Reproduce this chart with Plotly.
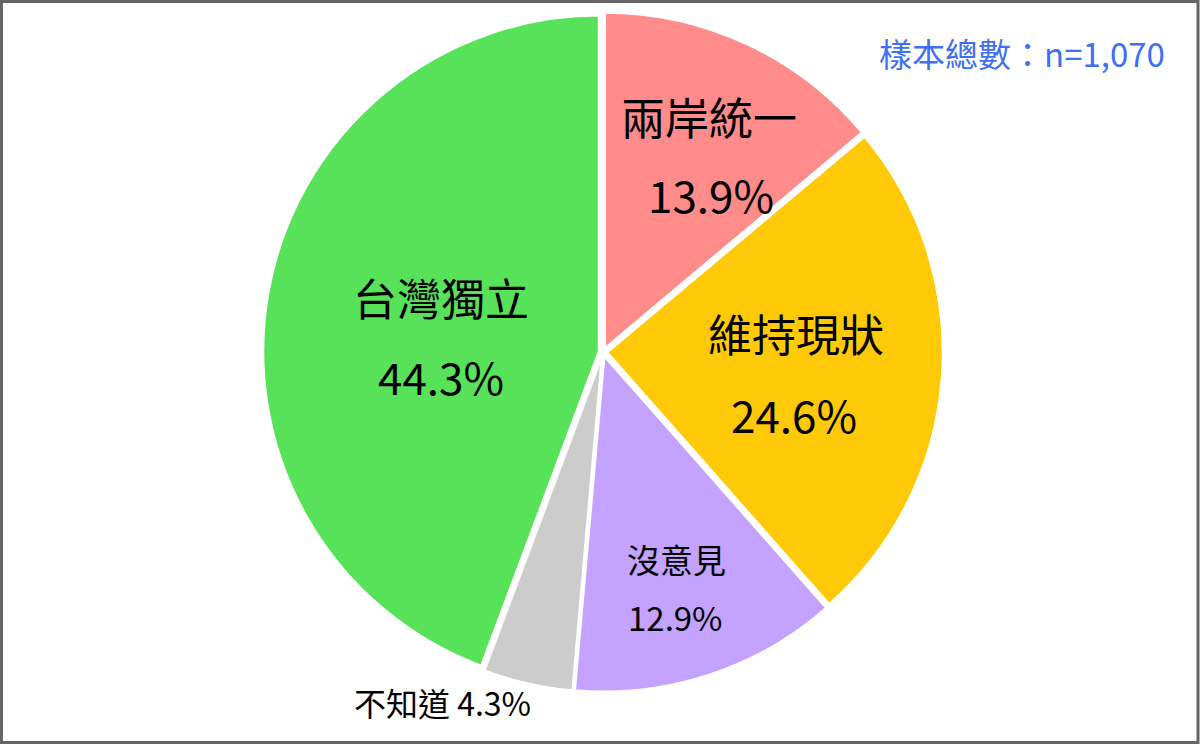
import plotly.graph_objects as go

# data
labels = ['兩岸統一', '維持現狀', '沒意見', '不知道', '台灣獨立']
values = [13.9, 24.6, 12.9, 4.3, 44.3]
colors = ['#FF8B8B', '#FFC907', '#C4A2FF', '#CCCCCC', '#58E25A']
sample_note = '樣本總數：n=1,070'

W, H = 1200, 746
FONT = 'Noto Sans CJK TC'

# label placement in pixels (name line, value line) and font size per slice
label_pos = [((709, 116), (711, 194), 44),
             ((796, 333), (794, 414), 44),
             ((676, 559), (675, 617), 33),
             (None, (442, 702), 32),
             ((441, 297), (441, 376), 44)]


def px(x, y):
    return x / W, 1 - y / H


# pie centre and outer radius in pixels
cx, cy, r = 603, 352, 340

fig = go.Figure(go.Pie(
    labels=labels,
    values=values,
    sort=False,
    direction='clockwise',
    rotation=0,
    marker=dict(colors=colors, line=dict(color='white', width=2.5)),
    pull=[0.012] * len(values),
    textinfo='none',
    hoverinfo='label+percent',
    showlegend=False,
    domain=dict(x=[(cx - r) / W, (cx + r) / W],
                y=[1 - (cy + r) / H, 1 - (cy - r) / H]),
))

annotations = []
for name, val, (p_name, p_val, size) in zip(labels, values, label_pos):
    if p_name is None:
        # small slice: name and value on one line outside the pie
        x, y = px(*p_val)
        annotations.append(dict(x=x, y=y, text=f'{name} {val}%',
                                font=dict(size=size)))
        continue
    x, y = px(*p_name)
    annotations.append(dict(x=x, y=y, text=name, font=dict(size=size)))
    x, y = px(*p_val)
    annotations.append(dict(x=x, y=y, text=f'{val}%', font=dict(size=size)))

for a in annotations:
    a.update(xref='paper', yref='paper', showarrow=False,
             xanchor='center', yanchor='middle')
    a['font'].update(family=FONT, color='black')

x, y = px(1167, 53)
annotations.append(dict(x=x, y=y, xref='paper', yref='paper', showarrow=False,
                        xanchor='right', yanchor='middle', text=sample_note,
                        font=dict(family=FONT, size=33, color='#3F6FF3')))

fig.update_layout(
    width=W, height=H,
    margin=dict(l=0, r=0, t=0, b=0),
    paper_bgcolor='white',
    plot_bgcolor='white',
    annotations=annotations,
    shapes=[dict(type='rect', xref='paper', yref='paper',
                 x0=1.5 / W, x1=1 - 2 / W, y0=3.5 / H, y1=1 - 1.5 / H,
                 line=dict(color='#666666', width=3))],
)

# page body has a default margin; drop it so the chart fills the window
fig.write_html('out.html', config={'displayModeBar': False},
               post_script="document.body.style.margin='0px';")
